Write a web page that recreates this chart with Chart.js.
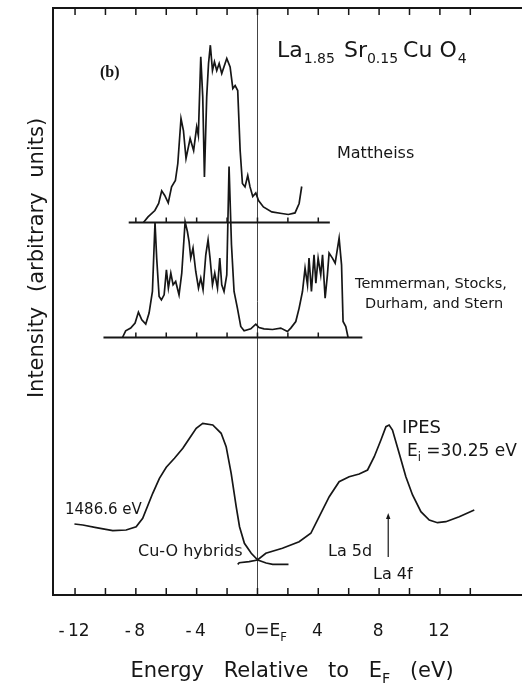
<!DOCTYPE html>
<html>
<head>
<meta charset="utf-8">
<script src="https://cdn.jsdelivr.net/npm/chart.js@4.4.1/dist/chart.umd.min.js"></script>
<style>
  html, body { margin: 0; padding: 0; background: #fff; overflow: hidden; }
  #wrap { width: 522px; height: 687px; }
</style>
</head>
<body>
<div id="wrap"><canvas id="c" width="522" height="687"></canvas></div>
<script>
// ---- Data: energies in eV relative to E_F, intensities in arbitrary units ----

// Calculated DOS, Mattheiss (height above its own baseline)
const mattE = [-7.5,-7.2,-6.75,-6.5,-6.3,-6.1,-5.87,-5.65,-5.4,-5.24,-5.03,-4.87,-4.7,-4.43,-4.2,-4.0,-3.89,-3.73,-3.6,-3.49,-3.34,-3.22,-3.1,-2.96,-2.83,-2.68,-2.52,-2.35,-2.02,-1.8,-1.62,-1.47,-1.3,-1.14,-0.99,-0.82,-0.64,-0.49,-0.31,-0.11,0.07,0.39,0.94,1.6,2.03,2.47,2.74,2.91];
const mattH = [0,0.56,1.2,1.9,3.16,2.7,1.96,3.56,4.2,5.9,10.4,9.2,6.4,8.4,7.2,9.56,8.7,16.56,12.56,4.56,12.56,15.9,17.73,15.2,16.06,15.2,15.9,14.9,16.4,15.56,13.4,13.7,13.2,7.2,3.9,3.56,4.7,3.56,2.6,2.96,2.2,1.56,1.06,0.9,0.8,0.96,1.9,3.6];

// Calculated DOS, Temmerman, Stocks, Durham and Stern (height above its own baseline)
const temE = [-8.88,-8.67,-8.34,-8.05,-7.83,-7.61,-7.35,-7.13,-6.91,-6.74,-6.63,-6.47,-6.32,-6.14,-5.99,-5.86,-5.7,-5.55,-5.38,-5.16,-4.98,-4.76,-4.61,-4.5,-4.39,-4.24,-4.06,-3.88,-3.73,-3.58,-3.4,-3.25,-3.12,-2.96,-2.81,-2.63,-2.48,-2.35,-2.2,-2.02,-1.87,-1.71,-1.54,-1.32,-1.1,-0.88,-0.44,-0.11,0.1,0.43,0.99,1.53,1.97,2.19,2.52,2.74,2.96,3.13,3.29,3.39,3.55,3.72,3.84,3.99,4.16,4.28,4.45,4.6,4.71,4.93,5.11,5.37,5.53,5.63,5.81,5.96];
const temH = [0,0.67,0.94,1.44,2.54,1.77,1.34,2.44,4.6,11.5,7.94,4.1,3.77,4.27,6.77,4.94,6.44,5.27,5.6,4.27,6.44,11.57,10.6,9.6,7.94,8.94,6.6,4.94,5.94,4.77,8.27,9.77,7.94,5.27,6.44,4.94,7.94,5.27,4.6,6.27,17.1,9.27,4.6,2.94,1.1,0.67,0.87,1.34,1.0,0.87,0.8,0.94,0.6,0.94,1.6,2.94,4.6,6.94,5.27,7.94,4.6,8.27,5.44,7.94,6.27,8.27,3.94,6.27,8.44,7.94,7.44,9.94,7.27,1.6,1.1,0];

// Measured XPS spectrum (1486.6 eV)
const xpsE = [-12.04,-11.49,-10.61,-9.52,-8.64,-7.98,-7.55,-6.89,-6.45,-6.0,-5.46,-4.91,-4.47,-4.03,-3.6,-2.94,-2.39,-2.06,-1.73,-1.4,-1.18,-0.86,-0.41,0.02,0.57,1.0,2.04];
const xpsY = [7.1,7.0,6.73,6.43,6.5,6.83,7.67,10.17,11.67,12.77,13.67,14.67,15.67,16.67,17.17,17.0,16.17,14.83,12.17,8.83,6.83,5.17,4.17,3.5,3.2,3.07,3.07];

// Measured IPES spectrum (E_i = 30.25 eV)
const ipesE = [-1.3,-1.2,-0.55,0,0.55,1.64,2.74,3.51,4.06,4.72,5.37,6.03,6.69,7.24,7.68,8.12,8.45,8.66,8.88,9.32,9.76,10.2,10.75,11.3,11.84,12.39,13.27,14.26];
const ipesY = [3.07,3.23,3.33,3.5,4.17,4.67,5.33,6.17,7.83,9.83,11.33,11.83,12.1,12.5,13.83,15.5,16.83,17.0,16.5,14.17,11.83,10.0,8.33,7.5,7.23,7.33,7.83,8.5];

// Stacking offsets and energy spans of the two calculated traces
const MATT_BASE = 37.25;
const TEM_BASE = 25.75;
const mattSpan = [-8.47, 4.76];
const temSpan = [-10.13, 6.9];
const baseTicks = [-8, -6, -4, -2, 0, 2, 4];

// Axis ticks and labels
const axisTicks = [-12, -10, -8, -6, -4, -2, 0, 2, 4, 6, 8, 10, 12, 14];
const tickValues = [-12, -8, -4, 0, 4, 8, 12];
const tickLabels = ['-\u200912', '-\u20098', '-\u20094', '0=E_{F}', '4', '8', '12'];

// La 4f marker
const arrowE = 8.6, arrowFrom = 3.8, arrowTo = 8.2;

const X_MIN = -13.45, X_MAX = 17.4, Y_MIN = 0, Y_MAX = 58.7;
const INK = '#161616';
const FONT = '"DejaVu Sans", "Liberation Sans", sans-serif';

const pts = (xs, ys, off = 0) => xs.map((x, i) => ({ x, y: off + ys[i] }));
const flat = (span, off) => [{ x: span[0], y: off }, { x: span[1], y: off }];

// ---- Rich text with subscripts written as _{...} ----
function segments(s) {
  const out = []; const re = /_\{([^}]*)\}/g; let last = 0, m;
  while ((m = re.exec(s))) {
    if (m.index > last) out.push({ t: s.slice(last, m.index), sub: false });
    out.push({ t: m[1], sub: true });
    last = re.lastIndex;
  }
  if (last < s.length) out.push({ t: s.slice(last), sub: false });
  return out;
}
function richWidth(ctx, s, size, extra) {
  let w = 0;
  for (const seg of segments(s)) {
    ctx.font = `${seg.sub ? size * 0.68 : size}px ${FONT}`;
    w += ctx.measureText(seg.t).width + (seg.t.split(' ').length - 1) * (extra || 0);
  }
  return w;
}
function drawRich(ctx, s, x, y, size, align, extra) {
  const w = richWidth(ctx, s, size, extra);
  let cx = align === 'center' ? x - w / 2 : (align === 'right' ? x - w : x);
  ctx.textAlign = 'left';
  ctx.textBaseline = 'alphabetic';
  for (const seg of segments(s)) {
    const fs = seg.sub ? size * 0.68 : size;
    ctx.font = `${fs}px ${FONT}`;
    const dy = seg.sub ? size * 0.3 : 0;
    const parts = seg.t.split(' ');
    parts.forEach((p, i) => {
      if (i > 0) cx += ctx.measureText(' ').width + (extra || 0);
      ctx.fillText(p, cx, y + dy);
      cx += ctx.measureText(p).width;
    });
  }
}

// ---- Frame, ticks, Fermi level and annotations ----
const decorations = {
  id: 'decorations',
  beforeDatasetsDraw(chart) {
    const { ctx, chartArea: a, scales: { x, y } } = chart;
    ctx.save();
    // Fermi level
    ctx.lineWidth = 1;
    ctx.strokeStyle = '#444';
    const x0 = Math.round(x.getPixelForValue(0)) + 0.5;
    ctx.beginPath(); ctx.moveTo(x0, a.top); ctx.lineTo(x0, a.bottom); ctx.stroke();
    // frame: left, top, bottom
    ctx.strokeStyle = INK;
    ctx.lineWidth = 2;
    ctx.beginPath();
    ctx.moveTo(a.right, a.top); ctx.lineTo(a.left, a.top); ctx.lineTo(a.left, a.bottom); ctx.lineTo(a.right, a.bottom);
    ctx.stroke();
    // inward tick marks on top and bottom axes
    ctx.lineWidth = 1.5;
    ctx.beginPath();
    for (const v of axisTicks) {
      const px = x.getPixelForValue(v);
      ctx.moveTo(px, a.top); ctx.lineTo(px, a.top + 7);
      ctx.moveTo(px, a.bottom); ctx.lineTo(px, a.bottom - 7);
    }
    // tick marks on the baselines of the calculated traces
    for (const base of [MATT_BASE, TEM_BASE]) {
      const py = y.getPixelForValue(base);
      for (const v of baseTicks) {
        const px = x.getPixelForValue(v);
        ctx.moveTo(px, py); ctx.lineTo(px, py - 5);
      }
    }
    ctx.stroke();
    ctx.restore();
  },
  afterDatasetsDraw(chart) {
    const { ctx, scales: { x, y } } = chart;
    ctx.save();
    ctx.fillStyle = INK;
    ctx.strokeStyle = INK;

    // La 4f arrow
    const ax = x.getPixelForValue(arrowE);
    const ay0 = y.getPixelForValue(arrowFrom), ay1 = y.getPixelForValue(arrowTo);
    ctx.lineWidth = 1.2;
    ctx.beginPath(); ctx.moveTo(ax, ay0); ctx.lineTo(ax, ay1 + 4); ctx.stroke();
    ctx.beginPath(); ctx.moveTo(ax, ay1); ctx.lineTo(ax - 2.2, ay1 + 6); ctx.lineTo(ax + 2.2, ay1 + 6); ctx.closePath(); ctx.fill();

    // x tick labels
    tickValues.forEach((v, i) => {
      const px = x.getPixelForValue(v);
      const lab = tickLabels[i];
      if (lab.startsWith('0=')) drawRich(ctx, lab, px - 13, 636, 17, 'left');
      else drawRich(ctx, lab, px - 1, 636, 17, 'center');
    });

    // axis titles
    drawRich(ctx, 'Energy Relative to E_{F} (eV)', 292, 677, 21, 'center', 13);
    ctx.save();
    ctx.translate(35, 258);
    ctx.rotate(-Math.PI / 2);
    drawRich(ctx, 'Intensity (arbitrary units)', 0, 7.5, 21, 'center', 8);
    ctx.restore();

    // panel tag
    ctx.font = 'bold 16px "Liberation Serif", "DejaVu Serif", serif';
    ctx.textAlign = 'left';
    ctx.fillText('(b)', 100, 77);

    // compound formula, laid out piece by piece
    const formula = [['La', false, 1], ['1.85', true, 9], ['Sr', false, 0], ['0.15', true, 5], ['Cu', false, 7], ['O', false, 1], ['4', true, 0]];
    let fx = 277;
    for (const [s, sub, gap] of formula) {
      ctx.font = `${sub ? 14 : 22}px ${FONT}`;
      ctx.fillText(s, fx, sub ? 63 : 57);
      fx += ctx.measureText(s).width + gap;
    }

    // trace labels
    ctx.font = `16px ${FONT}`;
    ctx.fillText('Mattheiss', 337, 158);
    ctx.font = `14.5px ${FONT}`;
    ctx.fillText('Temmerman, Stocks,', 355, 288);
    ctx.fillText('Durham, and Stern', 365, 308);
    ctx.font = `18px ${FONT}`;
    ctx.fillText('IPES', 402, 433);
    drawRich(ctx, 'E_{i} =30.25 eV', 407, 456, 17, 'left');
    ctx.font = `15px ${FONT}`;
    ctx.fillText('1486.6 eV', 65, 514);
    ctx.font = `16px ${FONT}`;
    ctx.fillText('Cu-O hybrids', 138, 556);
    ctx.fillText('La 5d', 328, 556);
    ctx.fillText('La 4f', 373, 579);
    ctx.restore();
  }
};

const line = (data, w) => ({
  data, borderColor: INK, borderWidth: w, pointRadius: 0, fill: false, tension: 0
});

new Chart(document.getElementById('c').getContext('2d'), {
  type: 'line',
  data: {
    datasets: [
      line(pts(mattE, mattH, MATT_BASE), 1.7),
      line(flat(mattSpan, MATT_BASE), 2),
      line(pts(temE, temH, TEM_BASE), 1.7),
      line(flat(temSpan, TEM_BASE), 2),
      line(pts(xpsE, xpsY), 1.7),
      line(pts(ipesE, ipesY), 1.7)
    ]
  },
  options: {
    responsive: false,
    animation: false,
    devicePixelRatio: 1,
    layout: { padding: { left: 53, top: 8, right: 0, bottom: 92 } },
    plugins: { legend: { display: false }, tooltip: { enabled: false } },
    scales: {
      x: { type: 'linear', min: X_MIN, max: X_MAX, display: false },
      y: { type: 'linear', min: Y_MIN, max: Y_MAX, display: false }
    }
  },
  plugins: [decorations]
});
</script>
</body>
</html>
